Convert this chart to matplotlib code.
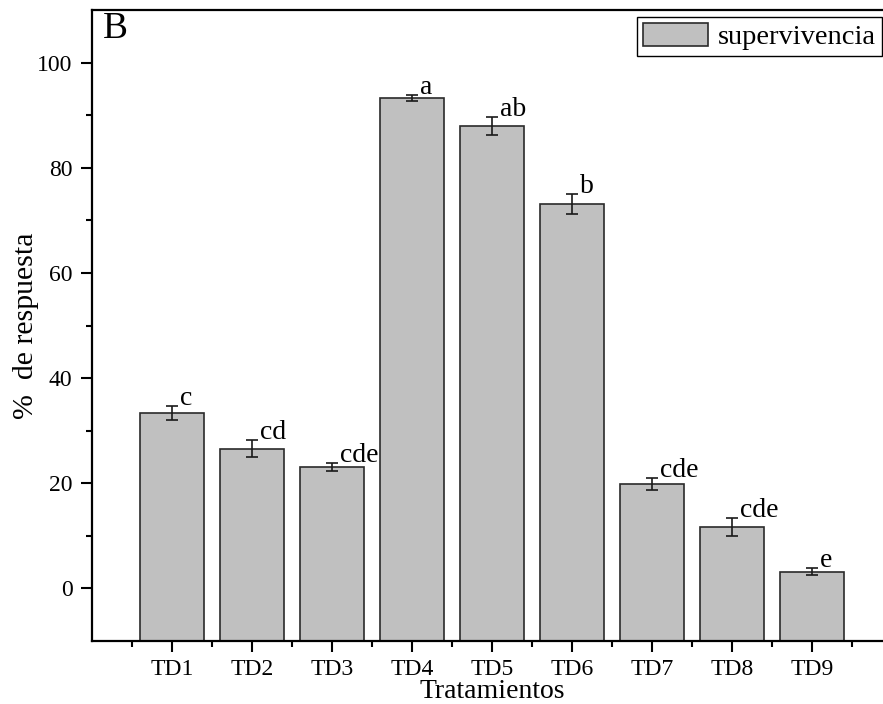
#!/usr/bin/env python3

import numpy as np
import matplotlib
matplotlib.use('Agg')
import matplotlib.pyplot as plt
from matplotlib.ticker import FixedLocator

# values
treatments = ['TD1', 'TD2', 'TD3', 'TD4', 'TD5', 'TD6', 'TD7', 'TD8', 'TD9']
survival = [33.3, 26.6, 23.1, 93.2, 88.0, 73.1, 19.9, 11.6, 3.2]
errors = [1.3, 1.7, 0.8, 0.6, 1.7, 1.9, 1.1, 1.7, 0.6]
letters = ['c', 'cd', 'cde', 'a', 'ab', 'b', 'cde', 'cde', 'e']

plt.rcParams['font.family'] = ['Liberation Serif', 'DejaVu Serif']

W, H = 883, 704
fig = plt.figure(figsize=(W / 100, H / 100), dpi=100)
# axis frame runs slightly past the right edge, as in the reference
ax = fig.add_axes([92 / W, (H - 641) / H, 800 / W, 631 / H])

ymin, ymax = -10, 110
x = np.arange(1, len(treatments) + 1)
heights = np.array(survival) - ymin
ax.bar(x, heights, bottom=ymin, width=0.79, color='#c0c0c0',
       edgecolor='#2a2a2a', linewidth=1.2, label='supervivencia', zorder=2)
ax.errorbar(x, survival, yerr=errors, fmt='none', ecolor='#1a1a1a',
            elinewidth=1.2, capsize=4.5, capthick=1.2, zorder=3)

for xi, v, e, lab in zip(x, survival, errors, letters):
    ax.text(xi + 0.1, v + e + 0.2, lab, ha='left', va='baseline', fontsize=20)

ax.set_xlim(0, 10)
ax.set_ylim(ymin, ymax)
ax.xaxis.set_major_locator(FixedLocator(x))
ax.xaxis.set_minor_locator(FixedLocator(np.arange(0.5, 10, 1.0)))
ax.set_xticklabels(treatments)
ax.yaxis.set_major_locator(FixedLocator([0, 20, 40, 60, 80, 100]))
ax.yaxis.set_minor_locator(FixedLocator([10, 30, 50, 70, 90]))

ax.tick_params(axis='both', which='major', direction='out', width=1.5, length=8)
ax.tick_params(axis='both', which='minor', direction='out', width=1.5, length=4)
ax.tick_params(axis='x', which='major', labelsize=17, pad=5)
ax.tick_params(axis='y', which='major', labelsize=17, pad=6)
for s in ax.spines.values():
    s.set_linewidth(1.6)

ax.set_xlabel('Tratamientos', fontsize=20, labelpad=-1)
ax.set_ylabel('%  de respuesta', fontsize=21.5, labelpad=-1)

ax.text(0.014, 0.997, 'B', transform=ax.transAxes, ha='left', va='top', fontsize=27)

leg = ax.legend(loc='upper left', bbox_to_anchor=(637 / W, 1 - 17 / H),
                bbox_transform=fig.transFigure, borderaxespad=0, fontsize=20.5,
                fancybox=False, edgecolor='black', framealpha=1,
                handlelength=2.3, handleheight=0.9, handletextpad=0.35,
                borderpad=0.2)
leg.get_frame().set_linewidth(1.0)

fig.savefig('out.png', dpi=100)
